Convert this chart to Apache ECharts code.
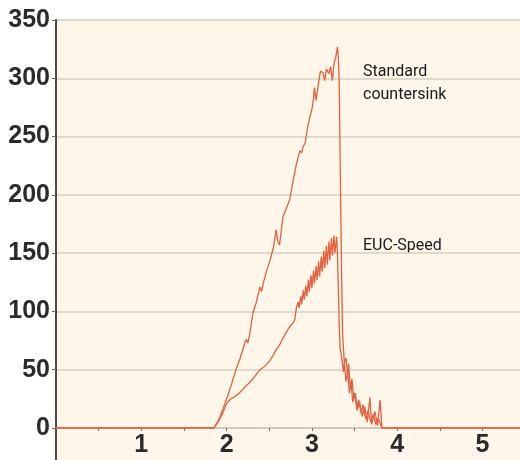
<!DOCTYPE html>
<html>
<head>
<meta charset="utf-8">
<script src="https://cdn.jsdelivr.net/npm/echarts@6/dist/echarts.min.js"></script>
<style>
  html, body { margin: 0; padding: 0; background: #ffffff; }
  #chart { width: 520px; height: 460px; }
</style>
</head>
<body>
<div id="chart"></div>
<script>
// values (x in units, y in force)
const stdX = [0, 1.85, 1.88, 1.92, 1.96, 2.01, 2.06, 2.11, 2.16, 2.21, 2.23, 2.25, 2.27, 2.31, 2.35, 2.39, 2.41, 2.43, 2.47, 2.51, 2.55, 2.58, 2.60, 2.62, 2.64, 2.66, 2.70, 2.74, 2.78, 2.82, 2.86, 2.88, 2.90, 2.92, 2.95, 2.98, 3.00, 3.02, 3.03, 3.05, 3.07, 3.10, 3.13, 3.15, 3.17, 3.20, 3.22, 3.24, 3.26, 3.28, 3.30, 3.31, 3.32, 3.33, 3.34, 3.35, 3.36, 3.37, 3.38, 3.40, 3.42, 3.43, 3.45, 3.47, 3.49, 3.51, 3.53, 3.55, 3.58, 3.60, 3.63, 3.66, 3.69, 3.72, 3.75, 3.78, 3.82, 5.44];
const stdY = [0, 0, 3, 9, 17, 27, 38, 50, 60, 72, 76, 73, 80, 99, 108, 121, 117, 124, 135, 144, 155, 170, 160, 157, 168, 181, 188, 196, 212, 227, 238, 236, 242, 244, 258, 268, 273, 283, 292, 281, 292, 306, 305, 298, 308, 304, 310, 298, 313, 318, 327, 318, 300, 240, 180, 124, 80, 69, 56, 60, 45, 55, 35, 42, 25, 30, 18, 24, 12, 20, 8, 15, 5, 12, 3, 8, 0, 0];

const eucX = [0, 1.85, 1.90, 1.95, 2.00, 2.05, 2.10, 2.15, 2.20, 2.27, 2.33, 2.39, 2.45, 2.51, 2.55, 2.58, 2.62, 2.66, 2.70, 2.74, 2.78, 2.80, 2.82, 2.84, 2.85, 2.87, 2.88, 2.90, 2.91, 2.93, 2.94, 2.96, 2.97, 2.99, 3.00, 3.02, 3.03, 3.05, 3.06, 3.08, 3.09, 3.11, 3.12, 3.14, 3.15, 3.17, 3.18, 3.20, 3.21, 3.23, 3.24, 3.26, 3.27, 3.29, 3.30, 3.31, 3.32, 3.33, 3.35, 3.37, 3.38, 3.40, 3.42, 3.44, 3.46, 3.48, 3.50, 3.53, 3.56, 3.59, 3.62, 3.65, 3.68, 3.70, 3.74, 3.77, 3.80, 3.82, 5.44];
const eucY = [0, 0, 5, 12, 21, 25, 27, 30, 34, 39, 44, 50, 53, 58, 63, 67, 71, 77, 82, 87, 90, 93, 104, 108, 103, 113, 106, 118, 110, 122, 113, 127, 117, 131, 120, 135, 124, 139, 127, 143, 130, 147, 134, 152, 137, 156, 140, 160, 144, 163, 148, 165, 150, 164, 150, 120, 90, 69, 60, 48, 56, 40, 48, 30, 38, 22, 30, 15, 22, 10, 18, 5, 26, 3, 14, 2, 24, 0, 0];

const yTicks = [0, 50, 100, 150, 200, 250, 300, 350];
const xLabels = [1, 2, 3, 4, 5];
const xTicks = [0.5, 1, 1.5, 2, 2.5, 3, 3.5, 4, 4.5, 5];
const seriesNames = ['Standard countersink', 'EUC-Speed'];

const lineColor = '#e4603e';
const font = "'Liberation Sans', Arial, sans-serif";
const narrow = "Roboto, 'Liberation Sans', Arial, sans-serif";

const chart = echarts.init(document.getElementById('chart'), null, {renderer: 'canvas'});

function pairs(xs, ys) {
    return xs.map((x, i) => [x, ys[i]]);
}

chart.setOption({
    animation: false,
    backgroundColor: '#ffffff',
    grid: {
        left: 56, right: 0, top: 20, bottom: 0,
        outerBoundsMode: 'none',
        containLabel: false,
        show: true,
        backgroundColor: '#fdf6e9',
        borderWidth: 0
    },
    xAxis: {
        type: 'value',
        min: 0,
        max: 5.44,
        position: 'bottom',
        offset: -32, // the axis sits on the zero line, above the grid's lower edge
        axisLine: {onZero: false, lineStyle: {color: '#cdbfb2', width: 1.5}},
        axisTick: {show: true, length: 3, customValues: xTicks, lineStyle: {color: '#777', width: 1}},
        axisLabel: {
            customValues: xLabels,
            margin: 5,
            fontSize: 25,
            fontWeight: 'bold',
            fontFamily: font,
            color: '#2b2b2b'
        },
        splitLine: {show: false}
    },
    yAxis: {
        type: 'value',
        min: -27.5,
        max: 350,
        axisLine: {show: true, lineStyle: {color: '#4a4a4a', width: 2}},
        axisTick: {show: true, length: 4, customValues: yTicks, lineStyle: {color: '#666'}},
        axisLabel: {
            customValues: yTicks,
            margin: 6,
            fontSize: 25,
            fontWeight: 'bold',
            fontFamily: font,
            color: '#2b2b2b'
        },
        splitLine: {show: true, lineStyle: {color: '#d8cfc3', width: 1.5}}
    },
    series: [
        {
            name: seriesNames[0],
            type: 'line',
            data: pairs(stdX, stdY),
            showSymbol: false,
            lineStyle: {color: lineColor, width: 1.3}
        },
        {
            name: seriesNames[1],
            type: 'line',
            data: pairs(eucX, eucY),
            showSymbol: false,
            lineStyle: {color: lineColor, width: 1.3}
        }
    ],
    graphic: [
        {
            type: 'text', left: 363, top: 60,
            style: {text: 'Standard\ncountersink', font: '16px ' + narrow, lineHeight: 23, fill: '#1a1a1a'}
        },
        {
            type: 'text', left: 363, top: 238,
            style: {text: seriesNames[1], font: '16px ' + narrow, fill: '#1a1a1a'}
        }
    ]
});
</script>
</body>
</html>
